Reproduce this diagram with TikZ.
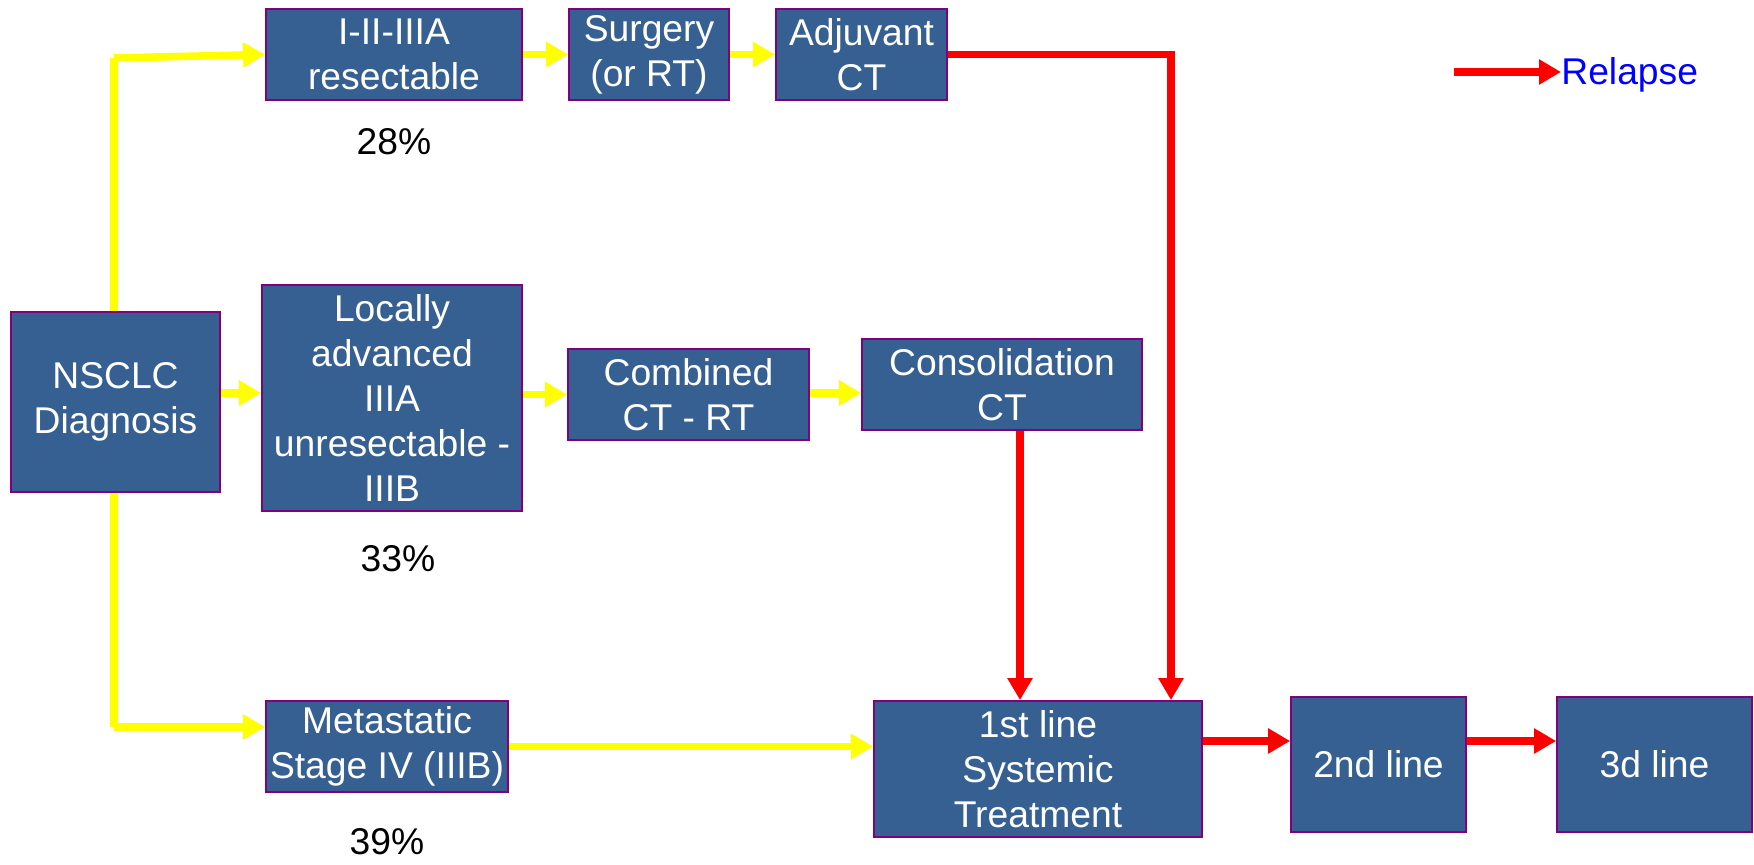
\documentclass[tikz,border=0pt]{standalone}
\usepackage{fontspec}
\setmainfont{Liberation Sans}
\usetikzlibrary{arrows.meta}
\definecolor{boxblue}{RGB}{55,96,146}
\definecolor{boxedge}{RGB}{128,0,128}
\definecolor{flowyellow}{RGB}{255,255,0}

\begin{document}
\begin{tikzpicture}[font=\fontsize{21.2}{25.5}\selectfont,
    stage/.style={rectangle, draw=boxedge, line width=1pt, fill=boxblue, text=white, align=center, inner sep=0pt},
    pct/.style={inner sep=0pt},
    yflow/.style={draw=flowyellow, line width=4.3pt, -{Triangle[width=0.48cm,length=0.44cm]}},
    rflow/.style={draw=red, line width=4.3pt, -{Triangle[width=0.48cm,length=0.44cm]}}]

            \useasboundingbox (0,0) rectangle (35.08,17.28);

            % Nodes
            \node[stage, minimum width=4.18cm, minimum height=3.6cm] (diag) at (2.31,9.24) {NSCLC\\Diagnosis};
            \node[stage, minimum width=5.12cm, minimum height=1.82cm] (resect) at (7.88,16.19) {I-II-IIIA\\resectable};
            \node[stage, minimum width=3.2cm, minimum height=1.82cm] (surgery) at (12.98,16.19) {Surgery\\(or RT)};
            \node[stage, minimum width=3.42cm, minimum height=1.82cm] (adjuv) at (17.23,16.19) {Adjuvant\\CT};
            \node[stage, minimum width=5.2cm, minimum height=4.52cm] (locally) at (7.84,9.32) {Locally\\advanced\\IIIA\\unresectable -\\IIIB};
            \node[stage, minimum width=4.82cm, minimum height=1.82cm] (combined) at (13.77,9.39) {Combined\\CT - RT};
            \node[stage, minimum width=5.6cm, minimum height=1.82cm] (consol) at (20.04,9.59) {Consolidation\\CT};
            \node[stage, minimum width=4.84cm, minimum height=1.82cm] (metast) at (7.74,2.35) {Metastatic\\Stage IV (IIIB)};
            \node[stage, minimum width=6.56cm, minimum height=2.72cm] (first) at (20.76,1.9) {1st line\\Systemic\\Treatment};
            \node[stage, minimum width=3.5cm, minimum height=2.7cm] (second) at (27.57,1.99) {2nd line};
            \node[stage, minimum width=3.9cm, minimum height=2.7cm] (third) at (33.09,1.99) {3d line};

            % Percentages
            \node[pct] (p28) at (7.88,14.44) {28\%};
            \node[pct] (p33) at (7.96,6.1) {33\%};
            \node[pct] (p39) at (7.74,0.44) {39\%};

            % Legend
            \coordinate (legstart) at (29.08,15.84);
            \node[pct, anchor=west, text=blue] (relapse) at (31.22,15.78) {Relapse};
            \draw[rflow] (legstart) -- (relapse.west |- legstart);

            % Yellow edges
            \coordinate (trunktop) at (2.28,16.12);
            \coordinate (trunkbot) at (2.28,2.74);
            \draw[draw=flowyellow, line width=4.3pt] (diag.north -| trunktop) -- (trunktop);
            \draw[yflow] (trunktop) -- (resect.west);
            \draw[draw=flowyellow, line width=4.3pt] (diag.south -| trunkbot) -- (trunkbot);
            \draw[yflow] (trunkbot) -- (trunkbot -| metast.west);
            \draw[yflow] (diag.east |- 0,9.42) -- (locally.west |- 0,9.42);
            \draw[yflow] (resect) -- (surgery);
            \draw[yflow] (surgery) -- (adjuv);
            \draw[yflow] (locally.east |- combined) -- (combined);
            \draw[yflow] (combined.east |- 0,9.42) -- (consol.west |- 0,9.42);
            \draw[yflow] (metast) -- (metast -| first.west);

            % Red edges (relapse)
            \coordinate (bend) at (23.42,16.19);
            \draw[rflow] (adjuv) -- (bend) -- (bend |- first.north);
            \draw[rflow] (consol.south -| 20.4,0) -- (first.north -| 20.4,0);
            \draw[rflow] (first.east |- 0,2.46) -- (second.west |- 0,2.46);
            \draw[rflow] (second.east |- 0,2.46) -- (third.west |- 0,2.46);
            \end{tikzpicture}
\end{document}
